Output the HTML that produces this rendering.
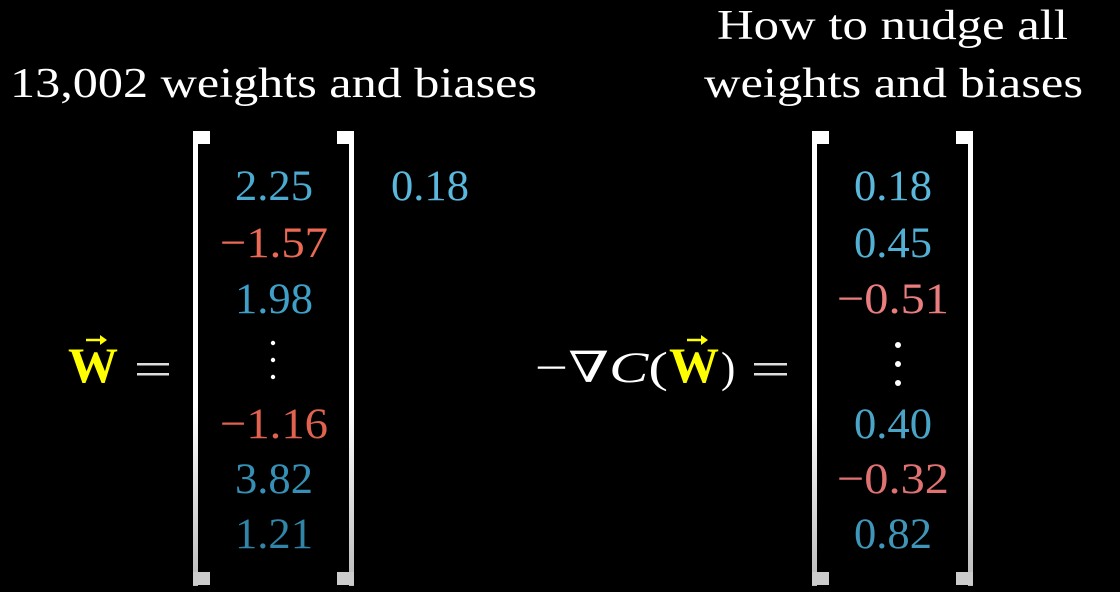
<!DOCTYPE html>
<html><head><meta charset="utf-8"><style>
html,body{margin:0;padding:0;background:#000;}
svg{display:block;}
text{font-family:"Liberation Serif","DejaVu Serif",serif;}
</style></head><body>
<svg width="1120" height="592" viewBox="0 0 1120 592">
<defs>
<linearGradient id="lg" x1="0" y1="0" x2="0" y2="1"><stop offset="0" stop-color="#fff"/><stop offset="0.6" stop-color="#fff"/><stop offset="1" stop-color="#bbb"/></linearGradient>
</defs>
<rect width="1120" height="592" fill="#000"/>
<text x="10" y="97" font-size="42" fill="#fff" textLength="527" lengthAdjust="spacingAndGlyphs">13,002 weights and biases</text>
<text x="717" y="39" font-size="42" fill="#fff" textLength="351" lengthAdjust="spacingAndGlyphs">How to nudge all</text>
<text x="704" y="97" font-size="42" fill="#fff" textLength="379" lengthAdjust="spacingAndGlyphs">weights and biases</text>

<g>
<rect x="193" y="131" width="5" height="455" fill="url(#lg)"/>
<rect x="193" y="131" width="17" height="13" fill="#fff"/>
<rect x="193" y="572" width="17" height="13" fill="#ccc"/>
<rect x="349" y="131" width="5" height="455" fill="url(#lg)"/>
<rect x="337" y="131" width="17" height="13" fill="#fff"/>
<rect x="337" y="572" width="17" height="13" fill="#ccc"/>
</g>
<g font-size="43" lengthAdjust="spacingAndGlyphs">
<text x="235" y="200" fill="#4aaad0" textLength="78" lengthAdjust="spacingAndGlyphs">2.25</text>
<text x="220" y="257" fill="#ec6a55" textLength="108" lengthAdjust="spacingAndGlyphs">−1.57</text>
<text x="235" y="313" fill="#3f9fc6" textLength="78" lengthAdjust="spacingAndGlyphs">1.98</text>
<text x="220" y="438" fill="#e0624f" textLength="108" lengthAdjust="spacingAndGlyphs">−1.16</text>
<text x="235" y="493" fill="#3690b5" textLength="78" lengthAdjust="spacingAndGlyphs">3.82</text>
<text x="235" y="548" fill="#3085a8" textLength="78" lengthAdjust="spacingAndGlyphs">1.21</text>
<circle cx="273" cy="343" r="2.2" fill="#fff"/><circle cx="273" cy="360" r="2.2" fill="#fff"/><circle cx="273" cy="377" r="2.2" fill="#fff"/>
</g>
<text x="391" y="200" font-size="43" fill="#5ab8dc" textLength="78" lengthAdjust="spacingAndGlyphs">0.18</text>

<g>
<text x="93" y="382" font-size="50" font-weight="bold" fill="#ffff00" text-anchor="middle">W</text>
<line x1="86" y1="340" x2="102" y2="340" stroke="#ffff00" stroke-width="2.5"/>
<path d="M100 335 L107 340 L100 345 Z" fill="#ffff00"/>
<rect x="137" y="363" width="32" height="2.5" fill="#ddd"/>
<rect x="137" y="373" width="32" height="2.5" fill="#ddd"/>
</g>

<g font-size="43" fill="#fff">
<text x="535" y="382" textLength="133" lengthAdjust="spacingAndGlyphs">−∇<tspan font-style="italic">C</tspan>(</text>
<text x="694" y="382" font-size="50" font-weight="bold" fill="#ffff00" text-anchor="middle">W</text>
<line x1="687" y1="340" x2="703" y2="340" stroke="#ffff00" stroke-width="2.5"/>
<path d="M701 335 L708 340 L701 345 Z" fill="#ffff00"/>
<text x="721" y="382">)</text>
<rect x="754" y="363" width="33" height="2.5" fill="#ddd"/>
<rect x="754" y="373" width="33" height="2.5" fill="#ddd"/>
</g>

<g>
<rect x="812" y="131" width="5" height="455" fill="url(#lg)"/>
<rect x="812" y="131" width="17" height="13" fill="#fff"/>
<rect x="812" y="572" width="17" height="13" fill="#ccc"/>
<rect x="968" y="131" width="5" height="455" fill="url(#lg)"/>
<rect x="956" y="131" width="17" height="13" fill="#fff"/>
<rect x="956" y="572" width="17" height="13" fill="#ccc"/>
</g>
<g font-size="43">
<text x="854" y="200" fill="#5ab8dc" textLength="78" lengthAdjust="spacingAndGlyphs">0.18</text>
<text x="854" y="257" fill="#52b0d4" textLength="78" lengthAdjust="spacingAndGlyphs">0.45</text>
<text x="837" y="313" fill="#ea7d7d" textLength="112" lengthAdjust="spacingAndGlyphs">−0.51</text>
<text x="854" y="438" fill="#4aa4c8" textLength="78" lengthAdjust="spacingAndGlyphs">0.40</text>
<text x="837" y="493" fill="#e07272" textLength="112" lengthAdjust="spacingAndGlyphs">−0.32</text>
<text x="854" y="548" fill="#3f96b8" textLength="78" lengthAdjust="spacingAndGlyphs">0.82</text>
<circle cx="898" cy="345" r="3" fill="#fff"/><circle cx="898" cy="364" r="3" fill="#fff"/><circle cx="898" cy="383" r="3" fill="#fff"/>
</g>
</svg>
</body></html>
